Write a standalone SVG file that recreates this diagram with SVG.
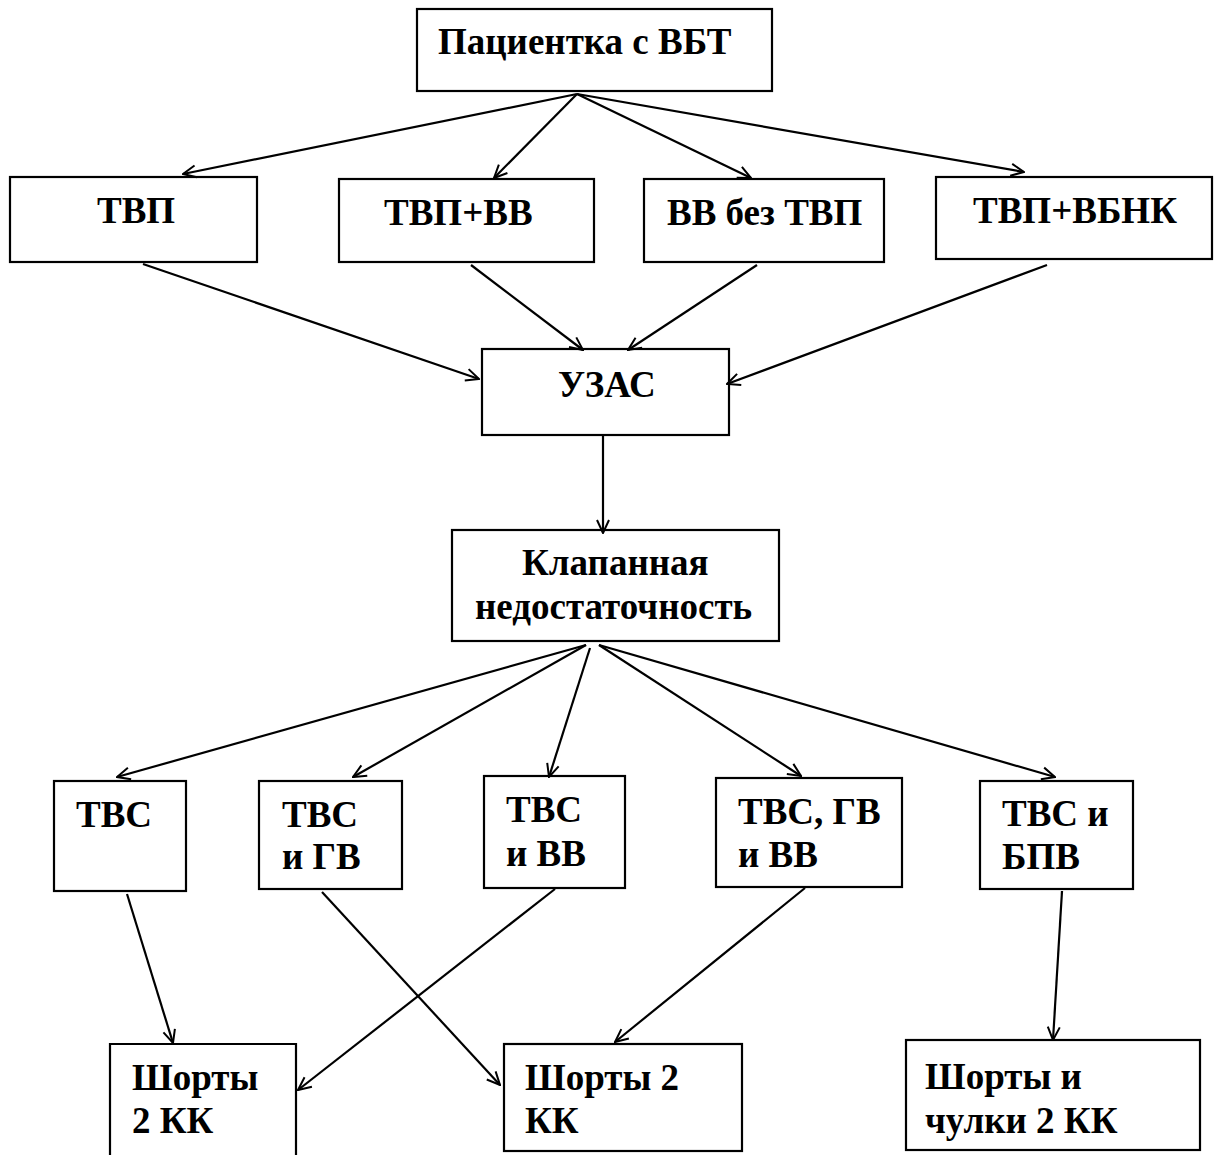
<svg xmlns="http://www.w3.org/2000/svg" width="1220" height="1155" viewBox="0 0 1220 1155">
<style>
.box{fill:#fff;stroke:#000;stroke-width:2.2}
.t{font-family:"Liberation Serif","Times New Roman",serif;font-weight:bold;font-size:37px;fill:#000}
.c{fill:none;stroke:#000;stroke-width:2.2}
</style>
<defs>
<marker id="ah" markerUnits="userSpaceOnUse" viewBox="0 0 16 16" refX="15" refY="8" markerWidth="16" markerHeight="16" orient="auto">
<path d="M2,2 L15,8 L2,14" fill="none" stroke="#000" stroke-width="2"/>
</marker>
</defs>
<rect width="1220" height="1155" fill="#fff"/>
<g id="n1"><rect class="box" x="417" y="9" width="355" height="82"/><text class="t" x="438" y="54">Пациентка с ВБТ</text></g>
<g id="n2"><rect class="box" x="10" y="177" width="247" height="85"/><text class="t" x="97" y="223">ТВП</text></g>
<g id="n3"><rect class="box" x="339" y="179" width="255" height="83"/><text class="t" x="384" y="225">ТВП+ВВ</text></g>
<g id="n4"><rect class="box" x="644" y="179" width="240" height="83"/><text class="t" x="667" y="225">ВВ без ТВП</text></g>
<g id="n5"><rect class="box" x="936" y="177" width="276" height="82"/><text class="t" x="973" y="223">ТВП+ВБНК</text></g>
<g id="n6"><rect class="box" x="482" y="349" width="247" height="86"/><text class="t" x="558" y="397">УЗАС</text></g>
<g id="n7"><rect class="box" x="452" y="530" width="327" height="111"/><text class="t" x="522" y="575">Клапанная</text><text class="t" x="475" y="619">недостаточность</text></g>
<g id="n8"><rect class="box" x="54" y="781" width="132" height="110"/><text class="t" x="76" y="827">ТВС</text></g>
<g id="n9"><rect class="box" x="259" y="781" width="143" height="108"/><text class="t" x="282" y="827">ТВС</text><text class="t" x="282" y="869">и ГВ</text></g>
<g id="n10"><rect class="box" x="484" y="776" width="141" height="112"/><text class="t" x="506" y="822">ТВС</text><text class="t" x="506" y="866">и ВВ</text></g>
<g id="n11"><rect class="box" x="716" y="778" width="186" height="109"/><text class="t" x="738" y="824">ТВС, ГВ</text><text class="t" x="738" y="867">и ВВ</text></g>
<g id="n12"><rect class="box" x="980" y="781" width="153" height="108"/><text class="t" x="1002" y="826">ТВС и</text><text class="t" x="1002" y="869">БПВ</text></g>
<g id="n13"><path class="box" d="M110,1160 V1044 H296 V1160"/><text class="t" x="132" y="1090">Шорты</text><text class="t" x="132" y="1133">2 КК</text></g>
<g id="n14"><rect class="box" x="504" y="1044" width="238" height="107"/><text class="t" x="525" y="1090">Шорты 2</text><text class="t" x="525" y="1133">КК</text></g>
<g id="n15"><rect class="box" x="906" y="1040" width="294" height="110"/><text class="t" x="925" y="1089">Шорты и</text><text class="t" x="925" y="1133">чулки 2 КК</text></g>
<g id="connectors">
<line class="c" x1="577" y1="94" x2="183" y2="174" marker-end="url(#ah)"/>
<line class="c" x1="577" y1="94" x2="494" y2="178" marker-end="url(#ah)"/>
<line class="c" x1="577" y1="94" x2="751" y2="178" marker-end="url(#ah)"/>
<line class="c" x1="577" y1="94" x2="1024" y2="172" marker-end="url(#ah)"/>
<line class="c" x1="143" y1="264" x2="479" y2="379" marker-end="url(#ah)"/>
<line class="c" x1="471" y1="265" x2="583" y2="350" marker-end="url(#ah)"/>
<line class="c" x1="757" y1="265" x2="628" y2="350" marker-end="url(#ah)"/>
<line class="c" x1="1047" y1="265" x2="727" y2="384" marker-end="url(#ah)"/>
<line class="c" x1="603" y1="435" x2="603" y2="533" marker-end="url(#ah)"/>
<line class="c" x1="586" y1="645" x2="117" y2="777" marker-end="url(#ah)"/>
<line class="c" x1="586" y1="645" x2="353" y2="777" marker-end="url(#ah)"/>
<line class="c" x1="590" y1="648" x2="549" y2="777" marker-end="url(#ah)"/>
<line class="c" x1="599" y1="645" x2="801" y2="776" marker-end="url(#ah)"/>
<line class="c" x1="599" y1="645" x2="1055" y2="777" marker-end="url(#ah)"/>
<line class="c" x1="127" y1="894" x2="173" y2="1043" marker-end="url(#ah)"/>
<line class="c" x1="322" y1="892" x2="500" y2="1085" marker-end="url(#ah)"/>
<line class="c" x1="555" y1="889" x2="298" y2="1090" marker-end="url(#ah)"/>
<line class="c" x1="805" y1="888" x2="615" y2="1042" marker-end="url(#ah)"/>
<line class="c" x1="1062" y1="891" x2="1053" y2="1040" marker-end="url(#ah)"/>
</g>
</svg>
